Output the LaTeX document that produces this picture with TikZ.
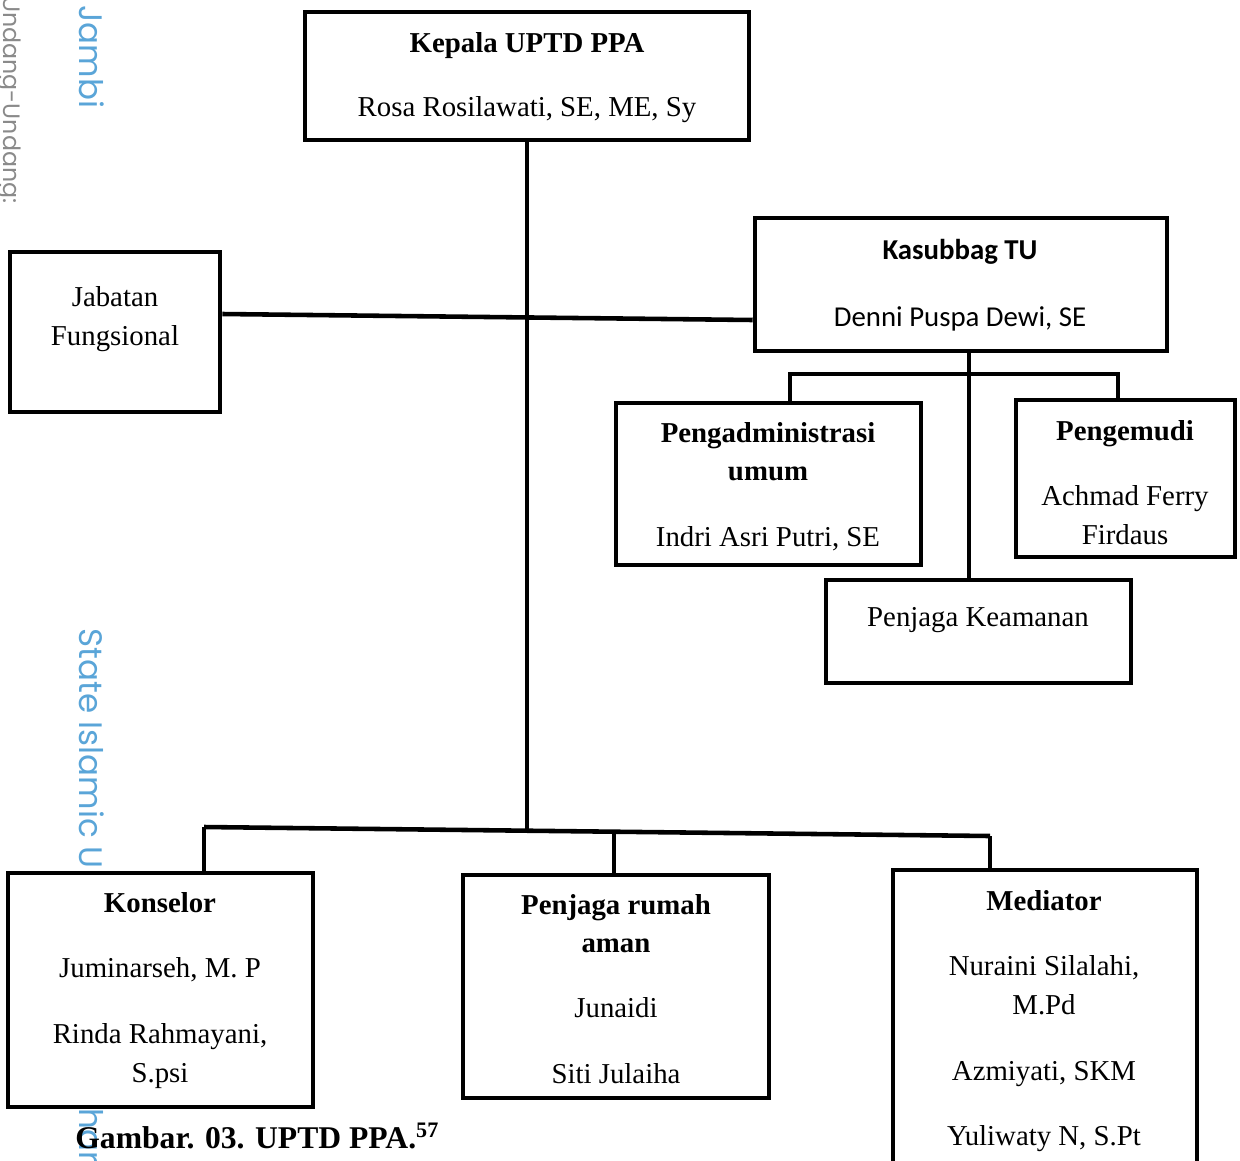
\documentclass[tikz,border=0pt]{standalone}
\usepackage{fontspec}
\setmainfont{Liberation Serif}
\newfontfamily\calib{Carlito}
\newfontfamily\wmfont{Poppins}
\usetikzlibrary{fit}
\definecolor{wmblue}{HTML}{5AA5D8}
\definecolor{wmgray}{HTML}{8A8A8A}
\begin{document}
\begin{tikzpicture}[x=0.02cm,y=-0.02cm,
  box/.style={draw,line width=2.6pt,rectangle,inner sep=0pt},
  lbl/.style={anchor=base,inner sep=0pt,font=\fontsize{16.4}{19}\selectfont},
  bld/.style={anchor=base,inner sep=0pt,font=\fontsize{16.4}{19}\selectfont\bfseries},
  conn/.style={line width=2.6pt},
  wm/.style={rotate=-90,anchor=base west,inner sep=0pt,text=wmblue,font=\wmfont\fontsize{18.5}{22}\selectfont}]
\useasboundingbox (0,0) rectangle (1240,1160);
\clip (0,0) rectangle (1240,1160);

% watermark
\node[wm] (wm1) at (79,5) {Jambi};
\node[wm,text=wmgray,font=\wmfont\fontsize{13.5}{16}\selectfont] (wm2) at (4,-4) {Undang-Undang:};
\node[wm] (wm3) at (79,628) {State Islamic U};
\node[wm] (wm4) at (79,1108) {har};

% boxes
\node[box,fit={(305,12) (749,140)}] (kep) {};
\node[box,fit={(10,252) (220,412)}] (jab) {};
\node[box,fit={(755,218) (1167,351)}] (kas) {};
\node[box,fit={(616,403) (921,565)}] (adm) {};
\node[box,fit={(1016,400) (1235,557)}] (pen) {};
\node[box,fit={(826,580) (1131,683)}] (pk) {};
\node[box,fit={(8,873) (313,1107)}] (kon) {};
\node[box,fit={(463,875) (769,1098)}] (pra) {};
\node[box,fit={(893,870) (1197,1185)}] (med) {};

% texts
\node[bld] (t1) at (527,52) {Kepala UPTD PPA};
\node[lbl] (t2) at (527,116) {Rosa Rosilawati, SE, ME, Sy};
\node[lbl] (t3) at (115,306) {Jabatan};
\node[lbl] (t4) at (115,345) {Fungsional};
\node[bld,font=\calib\fontsize{16.4}{19}\selectfont\bfseries] (t5) at (960,259) {Kasubbag TU};
\node[lbl,font=\calib\fontsize{16.4}{19}\selectfont] (t6) at (960,326) {Denni Puspa Dewi, SE};
\node[bld] (t7) at (768,442) {Pengadministrasi};
\node[bld] (t8) at (768,480) {umum};
\node[lbl] (t9) at (768,546) {Indri Asri Putri, SE};
\node[bld] (t10) at (1125,440) {Pengemudi};
\node[lbl] (t11) at (1125,505) {Achmad Ferry};
\node[lbl] (t12) at (1125,544) {Firdaus};
\node[lbl] (t13) at (978,626) {Penjaga Keamanan};
\node[bld] (t14) at (160,912) {Konselor};
\node[lbl] (t15) at (160,977) {Juminarseh, M. P};
\node[lbl] (t16) at (160,1043) {Rinda Rahmayani,};
\node[lbl] (t17) at (160,1082) {S.psi};
\node[bld] (t18) at (616,914) {Penjaga rumah};
\node[bld] (t19) at (616,952) {aman};
\node[lbl] (t20) at (616,1017) {Junaidi};
\node[lbl] (t21) at (616,1083) {Siti Julaiha};
\node[bld] (t22) at (1044,910) {Mediator};
\node[lbl] (t23) at (1044,975) {Nuraini Silalahi,};
\node[lbl] (t24) at (1044,1014) {M.Pd};
\node[lbl] (t25) at (1044,1080) {Azmiyati, SKM};
\node[lbl] (t26) at (1044,1145) {Yuliwaty N, S.Pt};
\node[anchor=base west,inner sep=0pt,font=\fontsize{18}{21}\selectfont\bfseries] (cap) at (75,1148) {Gambar. 03. UPTD PPA.\textsuperscript{57}};

% connectors
\coordinate (bl) at (204,827);
\coordinate (bj) at (527,830);
\coordinate (bm) at (614,831);
\coordinate (br) at (990,836);
\coordinate (tr) at (969,374);
\draw[conn] (kep.south) -- (bj);
\draw[conn] ([yshift=0.36cm]jab.east) -- ([yshift=-0.71cm]kas.west);
\draw[conn] ([xshift=0.16cm]kas.south) -- ([xshift=0.16cm]kas.south |- pk.north);
\draw[conn] ([xshift=0.43cm]adm.north) |- (tr) -| ([xshift=-0.15cm]pen.north);
\draw[conn] (bl) -- (br);
\draw[conn] (bl) -- (bl |- kon.north);
\draw[conn] (bm) -- (bm |- pra.north);
\draw[conn] (br) -- (br |- med.north);
\end{tikzpicture}
\end{document}
